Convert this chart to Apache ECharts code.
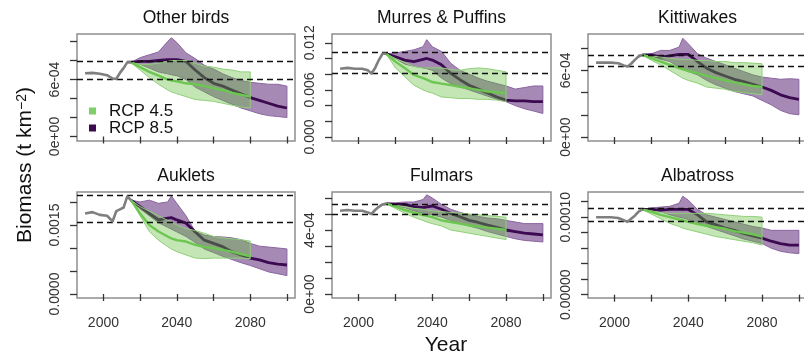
<!DOCTYPE html>
<html>
<head>
<meta charset="utf-8">
<script src="https://cdn.jsdelivr.net/npm/echarts@6/dist/echarts.min.js"></script>
<style>
html, body { margin: 0; padding: 0; background: #fff; }
#chart { width: 804px; height: 355px; }
</style>
</head>
<body>
<div id="chart"></div>
<script>
// ---- data ----
var panelTitles = ['Other birds', 'Murres & Puffins', 'Kittiwakes', 'Auklets', 'Fulmars', 'Albatross'];

var histYears = [1990, 1994, 1998, 2002, 2005, 2007, 2009, 2011, 2013, 2014, 2015];
var projYears = [2015, 2020, 2025, 2030, 2035, 2037, 2040, 2045, 2050, 2055, 2060, 2065, 2070, 2075, 2080, 2085, 2090, 2095, 2100];
var rcp45Years = [2015, 2020, 2025, 2030, 2035, 2037, 2040, 2045, 2050, 2055, 2060, 2065, 2070, 2075, 2080];

var yearTicks = [2000, 2020, 2040, 2060, 2080, 2100];
var yearLabels = [2000, 2040, 2080];

// Other birds
var otherHist = [6.65e-4, 6.7e-4, 6.6e-4, 6.45e-4, 6.1e-4, 6.05e-4, 6.7e-4, 7.2e-4, 7.8e-4, 7.95e-4, 7.8e-4];
var otherMid85 = [7.8e-4, 7.9e-4, 7.9e-4, 8.0e-4, 8.1e-4, 8.1e-4, 8.1e-4, 7.9e-4, 7.0e-4, 6.2e-4, 5.6e-4, 5.3e-4, 4.9e-4, 4.5e-4, 4.1e-4, 3.8e-4, 3.5e-4, 3.2e-4, 3.0e-4];
var otherHi85 = [7.8e-4, 8.3e-4, 8.6e-4, 8.9e-4, 10.0e-4, 10.4e-4, 9.9e-4, 8.8e-4, 8.2e-4, 7.5e-4, 7.1e-4, 6.6e-4, 6.2e-4, 5.9e-4, 5.7e-4, 5.6e-4, 5.5e-4, 5.5e-4, 5.3e-4];
var otherLo85 = [7.8e-4, 7.6e-4, 7.2e-4, 6.8e-4, 6.6e-4, 6.5e-4, 6.4e-4, 6.0e-4, 5.2e-4, 4.7e-4, 4.2e-4, 3.8e-4, 3.4e-4, 3.0e-4, 2.7e-4, 2.4e-4, 2.2e-4, 2.1e-4, 2.0e-4];
var otherMid45 = [7.8e-4, 7.3e-4, 6.8e-4, 6.4e-4, 6.0e-4, 5.9e-4, 5.8e-4, 5.6e-4, 5.5e-4, 5.3e-4, 5.1e-4, 4.9e-4, 4.6e-4, 4.4e-4, 4.2e-4];
var otherHi45 = [7.8e-4, 7.6e-4, 7.6e-4, 7.7e-4, 7.9e-4, 8.0e-4, 8.0e-4, 8.0e-4, 7.7e-4, 7.4e-4, 7.3e-4, 7.1e-4, 7.0e-4, 6.8e-4, 6.8e-4];
var otherLo45 = [7.8e-4, 7.0e-4, 6.2e-4, 5.5e-4, 4.9e-4, 4.7e-4, 4.5e-4, 4.2e-4, 3.9e-4, 3.8e-4, 3.7e-4, 3.5e-4, 3.3e-4, 3.1e-4, 3.0e-4];
var otherRef = [7.95e-4, 6.02e-4];
var otherTicks = [0, 2e-4, 4e-4, 6e-4, 8e-4, 1e-3];
var otherLabels = [0, 6e-4];

// Murres & Puffins
var murresHist = [0.0087, 0.0088, 0.0087, 0.0087, 0.0085, 0.0081, 0.0088, 0.0098, 0.0106, 0.0108, 0.0106];
var murresMid85 = [0.0106, 0.0102, 0.0098, 0.0096, 0.0099, 0.0100, 0.0098, 0.0092, 0.0081, 0.0073, 0.0066, 0.0061, 0.0056, 0.0051, 0.0047, 0.0046, 0.0046, 0.0045, 0.0045];
var murresHi85 = [0.0106, 0.0107, 0.0109, 0.0111, 0.0115, 0.0124, 0.0115, 0.0109, 0.0094, 0.0085, 0.0080, 0.0075, 0.0071, 0.0068, 0.0065, 0.0061, 0.0063, 0.0065, 0.0065];
var murresLo85 = [0.0106, 0.0100, 0.0093, 0.0090, 0.0088, 0.0087, 0.0085, 0.0075, 0.0068, 0.0064, 0.0060, 0.0056, 0.0052, 0.0048, 0.0045, 0.0040, 0.0036, 0.0033, 0.0030];
var murresMid45 = [0.0106, 0.0096, 0.0088, 0.0079, 0.0075, 0.0073, 0.0070, 0.0068, 0.0066, 0.0064, 0.0062, 0.0060, 0.0058, 0.0057, 0.0056];
var murresHi45 = [0.0106, 0.0100, 0.0095, 0.0090, 0.0088, 0.0088, 0.0088, 0.0088, 0.0086, 0.0085, 0.0087, 0.0088, 0.0087, 0.0085, 0.0083];
var murresLo45 = [0.0106, 0.0088, 0.0077, 0.0066, 0.0060, 0.0058, 0.0056, 0.0051, 0.0050, 0.0049, 0.0049, 0.0048, 0.0048, 0.0047, 0.0045];
var murresRef = [0.0108, 0.0081];
var murresTicks = [0, 0.002, 0.004, 0.006, 0.008, 0.010, 0.012];
var murresLabels = [0, 0.006, 0.012];

// Kittiwakes
var kittiHist = [6.7e-4, 6.7e-4, 6.7e-4, 6.65e-4, 6.45e-4, 6.35e-4, 6.6e-4, 6.95e-4, 7.25e-4, 7.35e-4, 7.4e-4];
var kittiMid85 = [7.4e-4, 7.4e-4, 7.2e-4, 7.3e-4, 7.45e-4, 7.45e-4, 7.45e-4, 6.8e-4, 6.2e-4, 5.8e-4, 5.5e-4, 5.2e-4, 5.0e-4, 4.75e-4, 4.5e-4, 4.2e-4, 3.8e-4, 3.55e-4, 3.4e-4];
var kittiHi85 = [7.4e-4, 7.5e-4, 7.8e-4, 7.8e-4, 8.1e-4, 8.9e-4, 8.4e-4, 7.5e-4, 7.1e-4, 6.8e-4, 6.5e-4, 6.2e-4, 5.9e-4, 5.6e-4, 5.4e-4, 5.3e-4, 5.2e-4, 5.25e-4, 5.2e-4];
var kittiLo85 = [7.4e-4, 7.3e-4, 7.0e-4, 6.8e-4, 6.3e-4, 6.1e-4, 5.9e-4, 5.6e-4, 5.1e-4, 4.7e-4, 4.4e-4, 4.1e-4, 3.9e-4, 3.7e-4, 3.3e-4, 2.9e-4, 2.4e-4, 2.1e-4, 2.0e-4];
var kittiMid45 = [7.4e-4, 7.1e-4, 6.8e-4, 6.5e-4, 6.2e-4, 6.1e-4, 5.95e-4, 5.75e-4, 5.5e-4, 5.3e-4, 5.1e-4, 4.9e-4, 4.75e-4, 4.6e-4, 4.5e-4];
var kittiHi45 = [7.4e-4, 7.3e-4, 7.2e-4, 7.1e-4, 7.0e-4, 7.0e-4, 7.0e-4, 6.9e-4, 6.9e-4, 6.8e-4, 6.8e-4, 6.7e-4, 6.7e-4, 6.65e-4, 6.6e-4];
var kittiLo45 = [7.4e-4, 6.9e-4, 6.5e-4, 6.0e-4, 5.5e-4, 5.3e-4, 5.1e-4, 4.85e-4, 4.5e-4, 4.4e-4, 4.3e-4, 4.1e-4, 4.0e-4, 3.9e-4, 3.8e-4];
var kittiRef = [7.39e-4, 6.33e-4];
var kittiTicks = [0, 2e-4, 4e-4, 6e-4, 8e-4];
var kittiLabels = [0, 6e-4];

// Auklets
var aukHist = [0.00175, 0.00178, 0.00172, 0.00170, 0.00158, 0.00180, 0.00184, 0.00188, 0.00212, 0.00210, 0.00204];
var aukMid85 = [0.00204, 0.00190, 0.00175, 0.00161, 0.00165, 0.00166, 0.00161, 0.00154, 0.00135, 0.00117, 0.00110, 0.00103, 0.00092, 0.00085, 0.00078, 0.00074, 0.00068, 0.00065, 0.00063];
var aukHi85 = [0.00204, 0.00200, 0.00204, 0.00197, 0.00200, 0.00213, 0.00197, 0.00170, 0.00136, 0.00128, 0.00125, 0.00124, 0.00122, 0.00118, 0.00110, 0.00104, 0.00102, 0.00100, 0.00098];
var aukLo85 = [0.00204, 0.00185, 0.00170, 0.00155, 0.00145, 0.00141, 0.00135, 0.00125, 0.00112, 0.00098, 0.00090, 0.00082, 0.00075, 0.00068, 0.00062, 0.00055, 0.00048, 0.00044, 0.00040];
var aukMid45 = [0.00204, 0.00175, 0.00150, 0.00136, 0.00125, 0.00121, 0.00117, 0.00114, 0.00107, 0.00102, 0.00100, 0.00096, 0.00092, 0.00087, 0.00082];
var aukHi45 = [0.00204, 0.00190, 0.00180, 0.00170, 0.00160, 0.00156, 0.00150, 0.00142, 0.00138, 0.00132, 0.00125, 0.00122, 0.00120, 0.00118, 0.00115];
var aukLo45 = [0.00204, 0.00170, 0.00136, 0.00117, 0.00103, 0.00098, 0.00092, 0.00085, 0.00078, 0.00077, 0.00078, 0.00078, 0.00078, 0.00078, 0.00077];
var aukRef = [0.00215, 0.00155];
var aukTicks = [0, 0.0005, 0.001, 0.0015, 0.002];
var aukLabels = [0, 0.0015];

// Fulmars
var fulHist = [5.2e-4, 5.25e-4, 5.2e-4, 5.2e-4, 5.1e-4, 5.0e-4, 5.25e-4, 5.45e-4, 5.6e-4, 5.67e-4, 5.65e-4];
var fulMid85 = [5.65e-4, 5.6e-4, 5.6e-4, 5.46e-4, 5.4e-4, 5.45e-4, 5.5e-4, 5.3e-4, 5.04e-4, 4.83e-4, 4.6e-4, 4.47e-4, 4.3e-4, 4.17e-4, 4.0e-4, 3.9e-4, 3.8e-4, 3.75e-4, 3.7e-4];
var fulHi85 = [5.65e-4, 5.7e-4, 5.75e-4, 5.75e-4, 5.9e-4, 6.2e-4, 6.0e-4, 5.6e-4, 5.3e-4, 5.1e-4, 4.95e-4, 4.85e-4, 4.75e-4, 4.7e-4, 4.6e-4, 4.5e-4, 4.4e-4, 4.4e-4, 4.4e-4];
var fulLo85 = [5.65e-4, 5.5e-4, 5.4e-4, 5.2e-4, 5.05e-4, 5.0e-4, 4.95e-4, 4.8e-4, 4.6e-4, 4.4e-4, 4.25e-4, 4.1e-4, 3.9e-4, 3.75e-4, 3.6e-4, 3.45e-4, 3.35e-4, 3.3e-4, 3.25e-4];
var fulMid45 = [5.65e-4, 5.46e-4, 5.25e-4, 5.08e-4, 4.94e-4, 4.88e-4, 4.8e-4, 4.6e-4, 4.5e-4, 4.4e-4, 4.3e-4, 4.22e-4, 4.15e-4, 4.08e-4, 4.0e-4];
var fulHi45 = [5.65e-4, 5.55e-4, 5.45e-4, 5.35e-4, 5.3e-4, 5.25e-4, 5.2e-4, 5.15e-4, 5.1e-4, 5.05e-4, 5.0e-4, 4.95e-4, 4.9e-4, 4.85e-4, 4.8e-4];
var fulLo45 = [5.65e-4, 5.35e-4, 5.05e-4, 4.8e-4, 4.6e-4, 4.5e-4, 4.4e-4, 4.25e-4, 4.0e-4, 3.9e-4, 3.8e-4, 3.7e-4, 3.6e-4, 3.5e-4, 3.4e-4];
var fulRef = [5.63e-4, 4.98e-4];
var fulTicks = [0, 1e-4, 2e-4, 3e-4, 4e-4, 5e-4, 6e-4];
var fulLabels = [0, 4e-4];

// Albatross
var albHist = [1.0e-4, 1.0e-4, 1.0e-4, 9.9e-5, 9.6e-5, 9.4e-5, 9.8e-5, 1.02e-4, 1.07e-4, 1.09e-4, 1.1e-4];
var albMid85 = [1.1e-4, 1.1e-4, 1.09e-4, 1.1e-4, 1.1e-4, 1.1e-4, 1.1e-4, 1.03e-4, 9.4e-5, 9.0e-5, 8.6e-5, 8.3e-5, 7.9e-5, 7.6e-5, 7.3e-5, 6.9e-5, 6.6e-5, 6.4e-5, 6.4e-5];
var albHi85 = [1.1e-4, 1.12e-4, 1.13e-4, 1.14e-4, 1.18e-4, 1.27e-4, 1.22e-4, 1.1e-4, 1.03e-4, 1.0e-4, 9.7e-5, 9.4e-5, 9.1e-5, 8.8e-5, 8.6e-5, 8.3e-5, 8.3e-5, 8.3e-5, 8.3e-5];
var albLo85 = [1.1e-4, 1.09e-4, 1.07e-4, 1.03e-4, 1.0e-4, 9.9e-5, 9.7e-5, 9.3e-5, 8.8e-5, 8.4e-5, 8.0e-5, 7.6e-5, 7.2e-5, 6.9e-5, 6.6e-5, 6.0e-5, 5.6e-5, 5.4e-5, 5.3e-5];
var albMid45 = [1.1e-4, 1.07e-4, 1.03e-4, 1.0e-4, 9.7e-5, 9.6e-5, 9.4e-5, 9.1e-5, 8.9e-5, 8.7e-5, 8.5e-5, 8.2e-5, 8.0e-5, 7.8e-5, 7.5e-5];
var albHi45 = [1.1e-4, 1.08e-4, 1.06e-4, 1.05e-4, 1.05e-4, 1.05e-4, 1.05e-4, 1.05e-4, 1.05e-4, 1.04e-4, 1.03e-4, 1.02e-4, 1.01e-4, 1.01e-4, 1.0e-4];
var albLo45 = [1.1e-4, 1.04e-4, 9.8e-5, 9.2e-5, 8.8e-5, 8.6e-5, 8.4e-5, 8.1e-5, 7.8e-5, 7.5e-5, 7.3e-5, 7.1e-5, 6.9e-5, 6.7e-5, 6.4e-5];
var albRef = [1.115e-4, 9.5e-5];
var albTicks = [0, 2e-5, 4e-5, 6e-5, 8e-5, 1e-4, 1.2e-4];
var albLabels = [0, 1e-4];

// ---- layout / styling ----
var FONT = '"Liberation Sans", Arial, Helvetica, sans-serif';
var P8_FILL = 'rgba(80,20,110,0.5)', P8_EDGE = '#8a66a0', P8_LINE = '#3b0a50';
var G_FILL = 'rgba(100,190,60,0.38)', G_EDGE = '#8fd078', G_LINE = '#6cc651';
var HIST_LINE = '#7f7f7f';

var layout = [
	{left: 77, top: 34, width: 218, height: 107, yMin: -4.74e-5, yMax: 1.079e-3, fmt: 'e', titleY: 18.5},
	{left: 332, top: 34, width: 219, height: 107, yMin: -5.1e-4, yMax: 0.01312, fmt: 3, titleY: 18.5},
	{left: 588, top: 34, width: 219, height: 107, yMin: -3.6e-5, yMax: 9.28e-4, fmt: 'e', titleY: 18.5},
	{left: 77, top: 192, width: 218, height: 106, yMin: -8.7e-5, yMax: 2.217e-3, fmt: 4, titleY: 176},
	{left: 332, top: 192, width: 219, height: 106, yMin: -2.5e-5, yMax: 6.375e-4, fmt: 'e', titleY: 176},
	{left: 588, top: 192, width: 219, height: 106, yMin: -4.3e-6, yMax: 1.325e-4, fmt: 5, titleY: 176}
];

var hists = [otherHist, murresHist, kittiHist, aukHist, fulHist, albHist];
var mid85 = [otherMid85, murresMid85, kittiMid85, aukMid85, fulMid85, albMid85];
var hi85 = [otherHi85, murresHi85, kittiHi85, aukHi85, fulHi85, albHi85];
var lo85 = [otherLo85, murresLo85, kittiLo85, aukLo85, fulLo85, albLo85];
var mid45 = [otherMid45, murresMid45, kittiMid45, aukMid45, fulMid45, albMid45];
var hi45 = [otherHi45, murresHi45, kittiHi45, aukHi45, fulHi45, albHi45];
var lo45 = [otherLo45, murresLo45, kittiLo45, aukLo45, fulLo45, albLo45];
var refs = [otherRef, murresRef, kittiRef, aukRef, fulRef, albRef];
var yTicks = [otherTicks, murresTicks, kittiTicks, aukTicks, fulTicks, albTicks];
var yLabels = [otherLabels, murresLabels, kittiLabels, aukLabels, fulLabels, albLabels];

function pairs(xs, ys) {
	var out = [];
	for (var i = 0; i < ys.length; i++) out.push([xs[i], ys[i]]);
	return out;
}

// R-style tick labels: 6e-04 or fixed decimals
function makeFormatter(fmt) {
	return function(v) {
		if (fmt === 'e') {
			if (Math.abs(v) < 1e-12) return '0e+00';
			return v.toExponential(0).replace(/e([+-])(\d)$/, 'e$10$2');
		}
		return v.toFixed(fmt);
	};
}

// uncertainty band as a polygon between lo and hi
function bandSeries(gi, years, lo, hi, fill, edge, z) {
	var data = [];
	for (var i = 0; i < years.length; i++) data.push([years[i], lo[i], hi[i]]);
	return {
		type: 'custom',
		xAxisIndex: gi,
		yAxisIndex: gi,
		z: z,
		silent: true,
		encode: {x: 0, y: [1, 2]},
		data: data,
		renderItem: function(params, api) {
			if (params.dataIndex !== 0) return null;
			var points = [];
			for (var a = 0; a < data.length; a++) points.push(api.coord([data[a][0], data[a][2]]));
			for (var b = data.length - 1; b >= 0; b--) points.push(api.coord([data[b][0], data[b][1]]));
			return {
				type: 'polygon',
				shape: {points: points},
				style: {fill: fill, stroke: edge, lineWidth: 1}
			};
		}
	};
}

function lineSeries(gi, name, years, values, color, width, z) {
	return {
		type: 'line',
		name: name,
		xAxisIndex: gi,
		yAxisIndex: gi,
		z: z,
		silent: true,
		symbol: 'none',
		color: color,
		lineStyle: {color: color, width: width, join: 'round'},
		data: pairs(years, values)
	};
}

var option = {
	animation: false,
	backgroundColor: '#ffffff',
	grid: [],
	xAxis: [],
	yAxis: [],
	series: [],
	graphic: [],
	legend: {
		left: 89,
		top: 102.5,
		padding: 0,
		orient: 'vertical',
		icon: 'rect',
		itemWidth: 7,
		itemHeight: 7,
		itemGap: 0,
		selectedMode: false,
		textStyle: {fontSize: 17, fontFamily: FONT, color: '#111', lineHeight: 15, padding: [0, 0, 0, 8]},
		data: [
			{name: 'RCP 4.5', itemStyle: {color: '#7fcf6a'}},
			{name: 'RCP 8.5', itemStyle: {color: '#3b0a50'}}
		]
	}
};

for (var i = 0; i < layout.length; i++) {
	var L = layout[i];
	var bottomRow = i >= 3;
	option.grid.push({
		left: L.left, top: L.top, width: L.width, height: L.height,
		show: true, borderColor: '#8e8e8e', borderWidth: 1.5,
		outerBoundsMode: 'none'
	});
	option.xAxis.push({
		type: 'value', gridIndex: i, min: 1985.6, max: 2104.4,
		axisLine: {show: false},
		splitLine: {show: false},
		axisTick: {show: true, length: 7, lineStyle: {color: '#333', width: 1.3}, customValues: yearTicks},
		axisLabel: {
			show: bottomRow, customValues: yearLabels, margin: 18, fontSize: 14, color: '#333', fontFamily: FONT,
			formatter: function(v) { return String(v); }
		}
	});
	option.yAxis.push({
		type: 'value', gridIndex: i, min: L.yMin, max: L.yMax,
		axisLine: {show: false},
		splitLine: {show: false},
		axisTick: {show: true, length: 7, lineStyle: {color: '#333', width: 1.3}, customValues: yTicks[i]},
		axisLabel: {
			show: true, customValues: yLabels[i], rotate: 90, margin: 15,
			fontSize: 14, color: '#333', fontFamily: FONT,
			formatter: makeFormatter(L.fmt)
		}
	});

	// RCP 8.5 first, RCP 4.5 drawn over it
	option.series.push(bandSeries(i, projYears, lo85[i], hi85[i], P8_FILL, P8_EDGE, 1));
	option.series.push(lineSeries(i, 'RCP 8.5', projYears, mid85[i], P8_LINE, 2.8, 2));
	option.series.push(bandSeries(i, rcp45Years, lo45[i], hi45[i], G_FILL, G_EDGE, 3));
	option.series.push(lineSeries(i, 'RCP 4.5', rcp45Years, mid45[i], G_LINE, 2.4, 4));

	var hist = lineSeries(i, 'hist', histYears, hists[i], HIST_LINE, 2.6, 5);
	hist.markLine = {
		silent: true,
		symbol: 'none',
		precision: 10,
		label: {show: false},
		lineStyle: {color: '#111', type: [6, 4], width: 1.3},
		data: [{yAxis: refs[i][0]}, {yAxis: refs[i][1]}]
	};
	option.series.push(hist);

	option.graphic.push({
		type: 'text',
		x: L.left + L.width / 2,
		y: L.titleY,
		style: {text: panelTitles[i], fontSize: 17.5, fontFamily: FONT, fill: '#111', align: 'center', verticalAlign: 'middle'}
	});
}

// shared axis titles
option.graphic.push({
	type: 'text',
	x: 25.7,
	y: 165,
	rotation: Math.PI / 2,
	style: {
		text: 'Biomass (t km{sup|\u22122})',
		fontSize: 21, fontFamily: FONT, fill: '#111',
		align: 'center', verticalAlign: 'middle',
		rich: {sup: {fontSize: 14, fontFamily: FONT, fill: '#111', verticalAlign: 'top'}}
	}
});
option.graphic.push({
	type: 'text',
	x: 446,
	y: 345.7,
	style: {text: 'Year', fontSize: 21, fontFamily: FONT, fill: '#111', align: 'center', verticalAlign: 'middle'}
});

var myChart = echarts.init(document.getElementById('chart'));
myChart.setOption(option);
</script>
</body>
</html>
